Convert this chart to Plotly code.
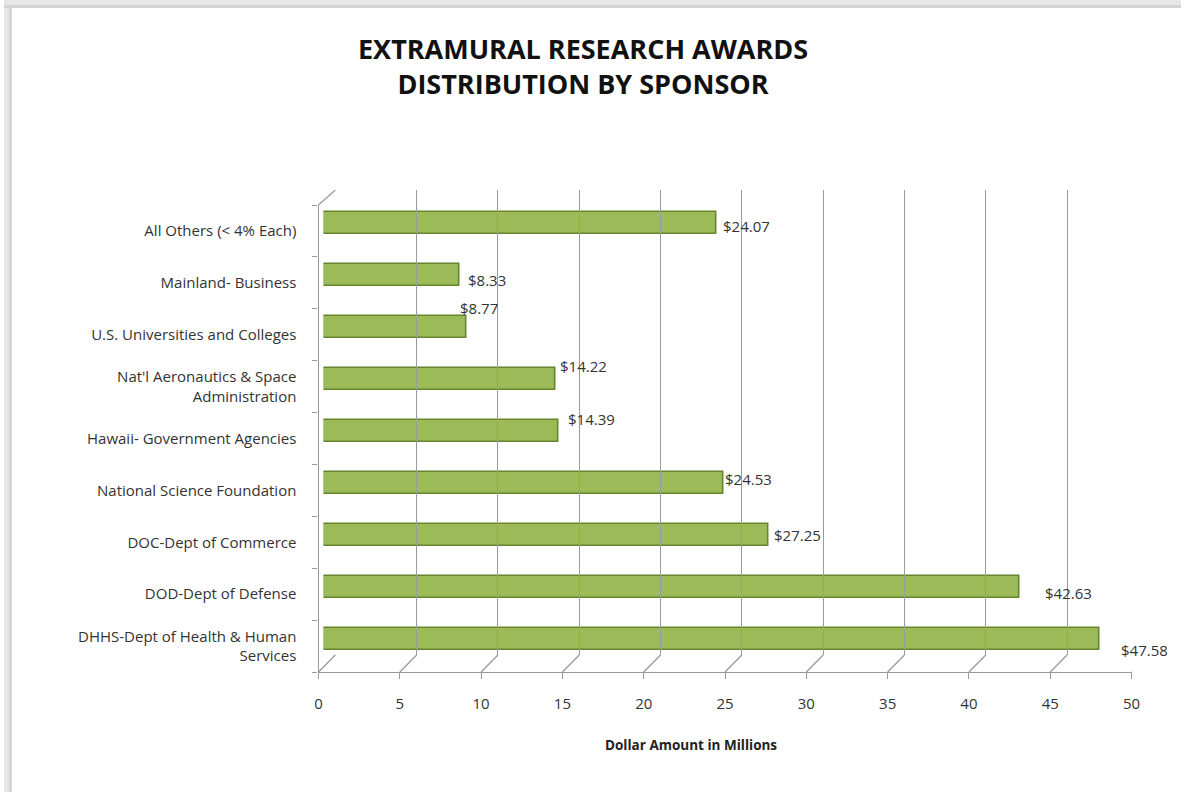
import plotly.graph_objects as go

# ---- data ----
categories = [
    "DHHS-Dept of Health & Human<br>Services",
    "DOD-Dept of Defense",
    "DOC-Dept of Commerce",
    "National Science Foundation",
    "Hawaii- Government Agencies",
    "Nat'l Aeronautics & Space<br>Administration",
    "U.S. Universities and Colleges",
    "Mainland- Business",
    "All Others (< 4% Each)",
]
values = [47.58, 42.63, 27.25, 24.53, 14.39, 14.22, 8.77, 8.33, 24.07]
value_labels = ["$47.58", "$42.63", "$27.25", "$24.53", "$14.39", "$14.22", "$8.77", "$8.33", "$24.07"]
x_ticks = [0, 5, 10, 15, 20, 25, 30, 35, 40, 45, 50]

# label offsets (style only), pixels: (right, down)
label_offsets = [(19, 11), (24, 6), (4, 0), (-1, -4), (8, -12), (2, -13), (-9, -19), (7, 5), (5, 3)]

W, H = 1190, 792
def fx(p):
    return p / W
def fy(p):
    return 1 - p / H

FONT = "Open Sans"
GRID = "#9a9a9a"
TXT = "#333333"

fig = go.Figure()

# bars
fig.add_trace(go.Bar(
    x=values, y=categories, orientation="h",
    marker=dict(color="#9bbb59", line=dict(color="#67842f", width=1.6)),
    width=0.43, xaxis="x", yaxis="y", hoverinfo="x+y", showlegend=False,
))
# invisible traces to drive the wall / floor axes
fig.add_trace(go.Scatter(x=values, y=[0.5] * len(values), mode="markers",
                         marker=dict(opacity=0), xaxis="x2", yaxis="y2",
                         hoverinfo="skip", showlegend=False))
fig.add_trace(go.Scatter(x=values, y=categories, mode="markers",
                         marker=dict(opacity=0), xaxis="x3", yaxis="y3",
                         hoverinfo="skip", showlegend=False))

# value labels
annotations = []
for v, c, t, (dx, dy) in zip(values, categories, value_labels, label_offsets):
    annotations.append(dict(
        x=v, y=c, xref="x", yref="y", text=t, showarrow=False,
        xanchor="left", yanchor="middle", xshift=dx, yshift=-dy,
        font=dict(family=FONT, size=15, color=TXT),
    ))
# title
annotations.append(dict(
    x=fx(585), y=fy(66), xref="paper", yref="paper",
    text="<b>EXTRAMURAL RESEARCH AWARDS<br>DISTRIBUTION BY SPONSOR</b>",
    showarrow=False, xanchor="center", yanchor="middle",
    font=dict(family=FONT, size=27, color="#111111"),
))
# x-axis title
annotations.append(dict(
    x=fx(695), y=fy(745), xref="paper", yref="paper",
    text="<b>Dollar Amount in Millions</b>", showarrow=False,
    xanchor="center", yanchor="middle",
    font=dict(family=FONT, size=13.5, color="#222222"),
))

# depth lines (3D floor / wall edges)
front_scale = 822 / 50.0
depth_dx = 17 / front_scale
shapes = []
for v in x_ticks:
    shapes.append(dict(type="line", xref="x3", yref="paper",
                       x0=v, y0=fy(672), x1=v + depth_dx, y1=fy(655),
                       line=dict(color=GRID, width=1.3)))
shapes.append(dict(type="line", xref="paper", yref="paper",
                   x0=fx(318), y0=fy(205), x1=fx(335), y1=fy(190),
                   line=dict(color=GRID, width=1.3)))
# frame shadow
shapes.append(dict(type="rect", xref="paper", yref="paper", x0=0, x1=1, y0=fy(8), y1=1,
                   fillcolor="#e6e6e6", line=dict(width=0), layer="below"))
shapes.append(dict(type="rect", xref="paper", yref="paper", x0=0, x1=fx(8), y0=0, y1=1,
                   fillcolor="#e6e6e6", line=dict(width=0), layer="below"))
shapes.append(dict(type="rect", xref="paper", yref="paper", x0=0, x1=1, y0=fy(8), y1=fy(5),
                   fillcolor="#d4d4d4", line=dict(width=0), layer="below"))
shapes.append(dict(type="rect", xref="paper", yref="paper", x0=fx(5), x1=fx(8), y0=0, y1=fy(8),
                   fillcolor="#d4d4d4", line=dict(width=0), layer="below"))

fig.update_layout(
    width=W, height=H, autosize=False,
    margin=dict(l=0, r=0, t=0, b=0),
    paper_bgcolor="white", plot_bgcolor="rgba(0,0,0,0)",
    font=dict(family=FONT, size=15, color=TXT),
    showlegend=False,
    annotations=annotations,
    shapes=shapes,
    bargap=0,
    # bars
    xaxis=dict(domain=[fx(323), fx(1148)], range=[0, 50], visible=False, anchor="y"),
    yaxis=dict(domain=[fy(665), fy(197)], type="category", categoryorder="array",
               categoryarray=categories, range=[-0.5, 8.5], visible=False, anchor="x"),
    # back wall grid
    xaxis2=dict(domain=[fx(335), fx(1157)], range=[0, 50], anchor="y2",
                tickvals=x_ticks, showgrid=True, gridcolor=GRID, gridwidth=1.3,
                showticklabels=False, zeroline=False, showline=False, ticks=""),
    yaxis2=dict(domain=[fy(655), fy(190)], range=[0, 1], anchor="x2",
                showgrid=False, showticklabels=False, zeroline=False, showline=False),
    # front floor / left wall
    xaxis3=dict(domain=[fx(318), fx(1140)], range=[0, 50], anchor="y3",
                tickvals=x_ticks, showgrid=False, zeroline=False,
                showline=True, linecolor=GRID, linewidth=1.3,
                ticks="outside", ticklen=6, tickcolor=GRID, tickwidth=1.3,
                ticklabelstandoff=12,
                tickfont=dict(family=FONT, size=15, color=TXT)),
    yaxis3=dict(domain=[fy(672), fy(205)], type="category", categoryorder="array",
                categoryarray=categories, range=[-0.5, 8.5], anchor="x3",
                tickson="boundaries", ticks="outside", ticklen=5, tickcolor=GRID, tickwidth=1.3,
                showline=True, linecolor=GRID, linewidth=1.3, showgrid=False, zeroline=False,
                ticklabelstandoff=18,
                tickfont=dict(family=FONT, size=15, color=TXT)),
)

fig.write_html(
    "out.html",
    config={"displayModeBar": False, "responsive": False},
    post_script=(
        "document.documentElement.style.margin='0';"
        "document.documentElement.style.overflow='hidden';"
        "document.body.style.margin='0';"
        "document.body.style.overflow='hidden';"
        "var gd=document.getElementById('{plot_id}');"
        "gd.style.width=document.documentElement.clientWidth+'px';"
        "Plotly.relayout(gd,{width:document.documentElement.clientWidth});"
    ),
)
